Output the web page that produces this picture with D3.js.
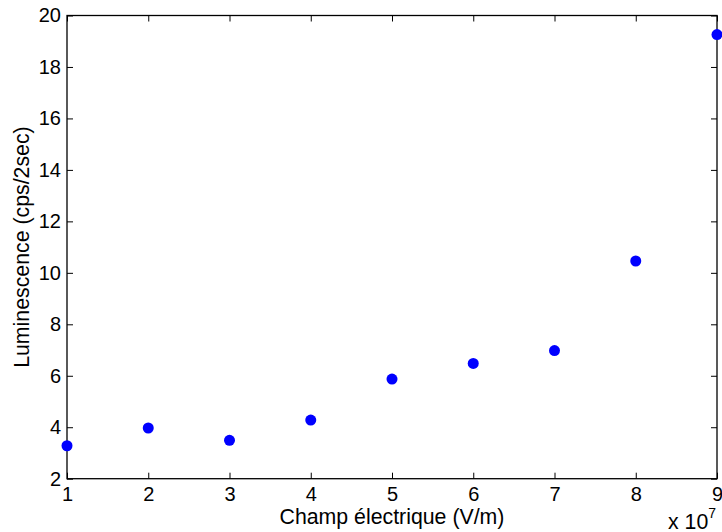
<!DOCTYPE html>
<html>
<head>
<meta charset="utf-8">
<script src="https://cdn.jsdelivr.net/npm/d3@7"></script>
<style>
  html, body { margin: 0; padding: 0; background: #fff; }
  svg { display: block; }
  text { font-family: "Liberation Sans", Arial, sans-serif; fill: #000; }
</style>
</head>
<body>
<svg id="chart" width="722" height="532"></svg>
<script>
const xValues = [1, 2, 3, 4, 5, 6, 7, 8, 9];
const yValues = [3.28, 3.97, 3.49, 4.28, 5.87, 6.48, 6.98, 10.46, 19.26];
const xTicks = [1, 2, 3, 4, 5, 6, 7, 8, 9];
const yTicks = [2, 4, 6, 8, 10, 12, 14, 16, 18, 20];
const xLabel = "Champ électrique (V/m)";
const yLabel = "Luminescence (cps/2sec)";

const svg = d3.select("#chart");
const L = 67, R = 717, T = 15.5, B = 478.7;
const x = d3.scaleLinear().domain([1, 9]).range([L, R]);
const y = d3.scaleLinear().domain([2, 20]).range([B, T]);
const tickLen = 6;
const tickFont = 20;
const labelFont = 21.3;

// bottom axis
const gx = svg.append("g").attr("transform", `translate(0,${B})`)
  .call(d3.axisBottom(x).tickValues(xTicks).tickFormat(d3.format("d")).tickSizeInner(-tickLen).tickSizeOuter(0).tickPadding(8));
// top axis
const gxt = svg.append("g").attr("transform", `translate(0,${T})`)
  .call(d3.axisTop(x).tickValues(xTicks).tickFormat("").tickSizeInner(-tickLen).tickSizeOuter(0));
// left axis
const gy = svg.append("g").attr("transform", `translate(${L},0)`)
  .call(d3.axisLeft(y).tickValues(yTicks).tickFormat(d3.format("d")).tickSizeInner(-tickLen).tickSizeOuter(0).tickPadding(6));
// right axis
const gyr = svg.append("g").attr("transform", `translate(${R},0)`)
  .call(d3.axisRight(y).tickValues(yTicks).tickFormat("").tickSizeInner(-tickLen).tickSizeOuter(0));

[gx, gxt, gy, gyr].forEach(g => {
  g.selectAll("path.domain").remove();
  g.selectAll("line").attr("stroke", "#000").attr("stroke-width", 1);
  g.selectAll("text").attr("font-size", tickFont).attr("font-family", "Liberation Sans, Arial, sans-serif").attr("fill", "#000");
});

// box
svg.append("rect").attr("x", L).attr("y", T).attr("width", R - L).attr("height", B - T)
  .attr("fill", "none").attr("stroke", "#000").attr("stroke-width", 1.3);

// points
svg.append("g").selectAll("circle").data(xValues.map((v, i) => [v, yValues[i]])).join("circle")
  .attr("cx", d => x(d[0])).attr("cy", d => y(d[1])).attr("r", 5.5).attr("fill", "#0000ff");

// labels
svg.append("text").attr("x", (L + R) / 2).attr("y", 523.5).attr("text-anchor", "middle")
  .attr("font-size", labelFont).text(xLabel);
svg.append("text").attr("transform", `translate(29.3,${(T + B) / 2}) rotate(-90)`).attr("text-anchor", "middle")
  .attr("font-size", labelFont).text(yLabel);

const mult = svg.append("text").attr("x", 668).attr("y", 528.5).attr("font-size", labelFont);
mult.append("tspan").text("x 10");
mult.append("tspan").attr("dy", -10.5).attr("font-size", 14).text("7");
</script>
</body>
</html>
